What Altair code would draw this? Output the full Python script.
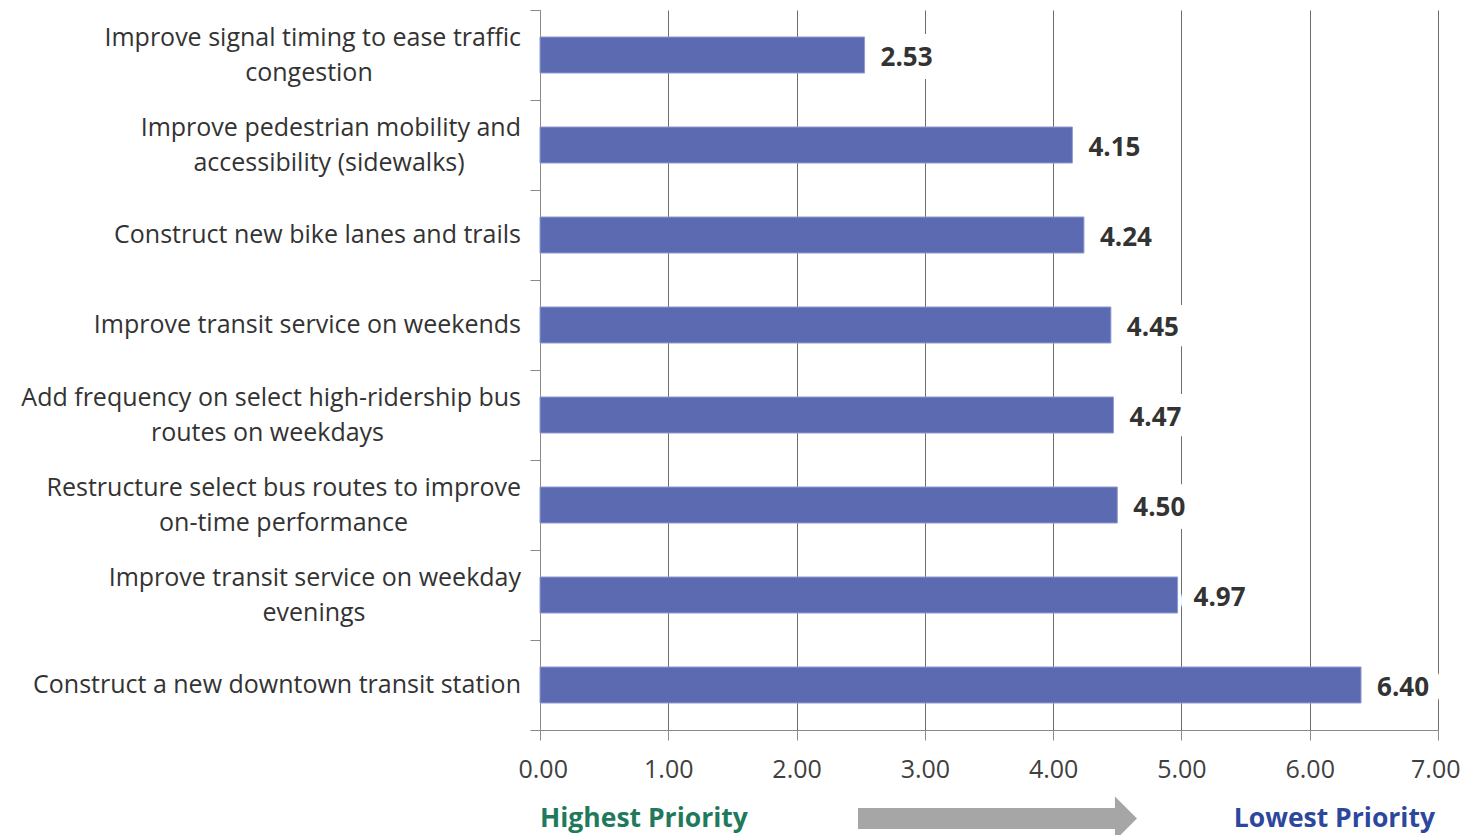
import altair as alt
import pandas as pd

# ---------------- data ----------------
label_line1 = [
    "Improve signal timing to ease traffic",
    "Improve pedestrian mobility and",
    "Construct new bike lanes and trails",
    "Improve transit service on weekends",
    "Add frequency on select high-ridership bus",
    "Restructure select bus routes to improve",
    "Improve transit service on weekday",
    "Construct a new downtown transit station",
]
label_line2 = [
    "congestion",
    "accessibility (sidewalks)",
    "",
    "",
    "routes on weekdays",
    "on-time performance",
    "evenings",
    "",
]
scores = [2.53, 4.15, 4.24, 4.45, 4.47, 4.50, 4.97, 6.40]
x_ticks = [0, 1, 2, 3, 4, 5, 6, 7]
end_labels = ["Highest Priority", "Lowest Priority"]

# ---------------- layout constants (not data) ----------------
first_line_width_px = [424, 384, 408, 428, 507, 475, 414, 490]
PLOT_W, PLOT_H = 898, 720
X_MAX = 7
LABEL_GAP = 19          # px from axis line to right edge of category labels
FONT = "Open Sans"
TEXT_COLOR = "#333333"
BAR_COLOR = "#5B6AB1"
AXIS_COLOR = "#8A8A8A"
GRID_COLOR = "#6E6E6E"

categories = [a + (" " + b if b else "") for a, b in zip(label_line1, label_line2)]

df = pd.DataFrame({"category": categories, "score": scores})
df_lab = pd.DataFrame({
    "category": categories,
    "line1": label_line1,
    "line2": label_line2,
    "w": first_line_width_px,
})

px_per_unit = PLOT_W / X_MAX

y_enc = alt.Y(
    "category:N", sort=categories, title=None,
    scale=alt.Scale(paddingInner=0, paddingOuter=0),
    axis=alt.Axis(labels=False, tickBand="extent", tickSize=10,
                  tickColor=AXIS_COLOR, domainColor=AXIS_COLOR, grid=False),
)
x_scale = alt.Scale(domain=[0, X_MAX], nice=False, zero=False)
x_enc = alt.X(
    "score:Q", title=None, scale=x_scale,
    axis=alt.Axis(values=x_ticks, format=".2f", grid=True, gridColor=GRID_COLOR,
                  tickSize=10, tickColor=AXIS_COLOR, domainColor=AXIS_COLOR,
                  labelFont=FONT, labelFontSize=25, labelColor="#404040",
                  labelPadding=17, labelFlush=True, labelFlushOffset=22),
)

bars = alt.Chart(df).mark_bar(size=36, color=BAR_COLOR, stroke="#8F9AD2",
                              strokeWidth=1).encode(y=y_enc, x=x_enc)

value_style = dict(align="left", baseline="middle", dx=16, dy=3, font=FONT,
                   fontSize=26, fontWeight="bold")

value_halo = alt.Chart(df).mark_text(
    color="white", stroke="white", strokeWidth=26, strokeJoin="round",
    **value_style,
).encode(y=y_enc, x=x_enc, text=alt.Text("score:Q", format=".2f"))

value_text = alt.Chart(df).mark_text(
    color=TEXT_COLOR, **value_style,
).encode(y=y_enc, x=x_enc, text=alt.Text("score:Q", format=".2f"))

lab_common = dict(baseline="middle", font=FONT, fontSize=25, color=TEXT_COLOR)

single_lines = alt.Chart(df_lab).transform_filter("datum.line2 == ''").mark_text(
    align="right", dy=0, **lab_common
).encode(y=y_enc, x=alt.value(-LABEL_GAP), text="line1:N")

first_lines = alt.Chart(df_lab).transform_filter("datum.line2 != ''").mark_text(
    align="right", dy=-17.5, **lab_common
).encode(y=y_enc, x=alt.value(-LABEL_GAP), text="line1:N")

second_lines = alt.Chart(df_lab).transform_filter("datum.line2 != ''").transform_calculate(
    cx=f"-({LABEL_GAP} + datum.w / 2) / {px_per_unit}"
).mark_text(
    align="center", dy=17.5, **lab_common
).encode(y=y_enc, x=alt.X("cx:Q", scale=x_scale), text="line2:N")

# ---------------- bottom annotation ----------------
ann_df = pd.DataFrame({"label": end_labels, "pos": [0, X_MAX],
                       "side": ["left", "right"]})
highest = alt.Chart(ann_df).transform_filter("datum.side == 'left'").mark_text(
    align="left", baseline="middle", font=FONT, fontSize=26.5, fontWeight="bold",
    color="#1F7A5C",
).encode(x=alt.X("pos:Q", scale=x_scale), y=alt.value(809), text="label:N")
lowest = alt.Chart(ann_df).transform_filter("datum.side == 'right'").mark_text(
    align="right", baseline="middle", font=FONT, fontSize=26.5, fontWeight="bold",
    color="#2D479D", dx=-3,
).encode(x=alt.X("pos:Q", scale=x_scale), y=alt.value(809), text="label:N")

arrow_path = ("M-1,-0.0753 L0.842,-0.0753 L0.842,-0.158 L1,0 "
              "L0.842,0.158 L0.842,0.0753 L-1,0.0753 Z")
arrow_df = pd.DataFrame({"pos": [3.566]})
arrow = alt.Chart(arrow_df).mark_point(
    shape=arrow_path, size=279 ** 2, filled=True, color="#A6A6A6",
    opacity=1, strokeWidth=0,
).encode(x=alt.X("pos:Q", scale=x_scale), y=alt.value(808.5))

chart = alt.layer(
    bars, value_halo, value_text, single_lines, first_lines, second_lines,
    highest, lowest, arrow,
).properties(
    width=PLOT_W, height=PLOT_H, autosize="none",
    padding={"left": 532, "top": 2, "right": 22, "bottom": 110},
).configure_view(stroke=None)

chart.save("out.html", embed_options={"renderer": "svg", "actions": False})
